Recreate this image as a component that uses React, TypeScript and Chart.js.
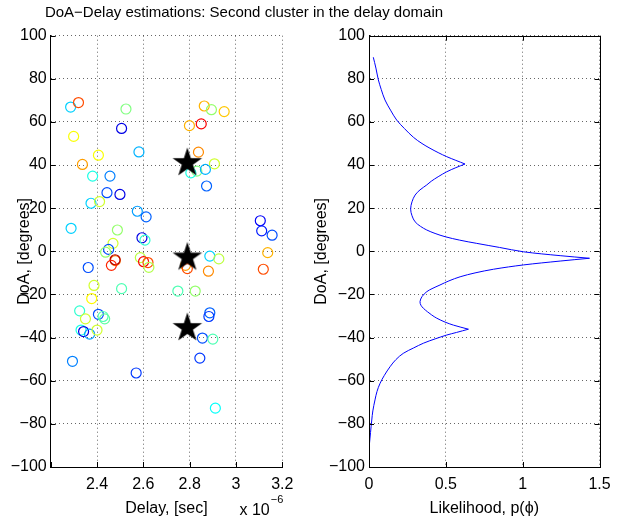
import React, { useEffect, useRef } from 'react';
import { Chart, registerables } from 'chart.js';

Chart.register(...registerables);

// ---------- data ----------
const TITLE = 'DoA\u2212Delay estimations: Second cluster in the delay domain';

// left panel: estimated (delay x 1e-6 s, DoA deg) pairs, colour level (jet 0..1)
const delays = [
  2.286, 2.32, 2.525, 2.506, 2.299, 2.406, 2.337, 2.381, 2.456, 2.581,
  2.863, 2.894, 2.949, 2.799, 2.85, 2.838, 2.907, 2.831, 2.805, 2.868,
  2.873, 2.443, 2.499, 2.374, 2.411, 2.574, 2.612, 2.288, 2.488, 2.469,
  2.594, 2.607, 2.45, 2.437, 2.362, 2.479, 2.478, 2.462, 2.587, 2.601,
  2.62, 2.624, 2.782, 2.79, 2.887, 2.926, 2.881, 3.105, 3.111, 3.156,
  3.137, 3.118, 2.387, 2.506, 2.377, 2.749, 2.824, 2.325, 2.406, 2.35,
  2.426, 2.433, 2.887, 2.883, 2.331, 2.342, 2.368, 2.4, 2.855, 2.9,
  2.294, 2.844, 2.569, 2.911,
];
const doas = [
  66.9, 69.0, 66.0, 57.0, 53.3, 44.6, 40.3, 34.9, 34.9, 46.1,
  67.4, 65.7, 64.8, 58.3, 59.1, 46.0, 40.6, 37.2, 36.4, 38.0,
  30.3, 27.2, 26.4, 22.3, 23.1, 18.6, 16.0, 10.7, 9.9, 3.7,
  6.3, 5.2, 0.9, -0.4, -7.5, -4.3, -3.9, -6.5, -2.9, -4.8,
  -5.2, -7.4, -6.5, -8.0, -2.2, -3.5, -9.2, 14.2, 9.5, 7.5,
  -0.6, -8.3, -15.8, -17.3, -21.9, -18.4, -18.4, -27.6, -29.2, -31.3,
  -30.2, -31.3, -28.5, -30.2, -36.5, -37.2, -38.4, -36.5, -40.2, -40.7,
  -51.0, -49.5, -56.4, -72.7,
];
const levels = [
  0.33, 0.8, 0.5, 0.1, 0.62, 0.62, 0.72, 0.4, 0.25, 0.3,
  0.7, 0.52, 0.68, 0.7, 0.88, 0.74, 0.58, 0.5, 0.4, 0.3,
  0.22, 0.2, 0.1, 0.33, 0.58, 0.28, 0.22, 0.33, 0.52, 0.58,
  0.1, 0.42, 0.2, 0.52, 0.2, 0.76, 0.95, 0.84, 0.56, 0.88,
  0.8, 0.55, 0.72, 0.8, 0.33, 0.56, 0.74, 0.12, 0.15, 0.2,
  0.7, 0.8, 0.58, 0.45, 0.63, 0.45, 0.52, 0.42, 0.2, 0.58,
  0.45, 0.47, 0.22, 0.18, 0.4, 0.1, 0.28, 0.58, 0.2, 0.45,
  0.25, 0.18, 0.18, 0.38,
];

// cluster centres (stars)
const starDelays = [2.79, 2.79, 2.79];
const starDoas = [41.0, -2.8, -35.5];

// right panel: likelihood curve
const curveDoa = [
  90, 85, 79.5, 75, 70.2, 65.5, 60.9, 57, 52.9, 50,
  47.8, 45.8, 43.9, 42.2, 40.5, 38.8, 36.9, 34.6, 32.5, 30.8,
  28.5, 26.1, 23, 19.6, 16.5, 13.7, 11.6, 9.9, 8.3, 6.8,
  5.2, 3.7, 1.8, -0.2, -2.0, -3.2, -4.5, -6.3, -8.3, -10,
  -11.8, -13.7, -15.6, -17.3, -18.7, -21, -23.3, -25, -26.4, -28,
  -29.5, -31, -32.8, -34.2, -36.1, -37.6, -38.8, -40.6, -42.6, -44.8,
  -47.3, -50.2, -53.5, -57.5, -61.2, -65, -68.9, -74, -78.2, -84, -90,
];
const curveP = [
  0.028, 0.045, 0.061, 0.08, 0.104, 0.14, 0.18, 0.23, 0.289, 0.345,
  0.397, 0.45, 0.506, 0.565, 0.625, 0.565, 0.506, 0.45, 0.405, 0.376,
  0.332, 0.3, 0.28, 0.271, 0.28, 0.3, 0.335, 0.376, 0.43, 0.495,
  0.59, 0.701, 0.85, 1.005, 1.244, 1.435, 1.244, 1.005, 0.81, 0.69,
  0.593, 0.52, 0.462, 0.41, 0.376, 0.345, 0.332, 0.338, 0.354, 0.38,
  0.408, 0.441, 0.495, 0.549, 0.647, 0.57, 0.506, 0.43, 0.354, 0.29,
  0.223, 0.175, 0.137, 0.1, 0.072, 0.052, 0.039, 0.025, 0.018, 0.01, 0.002,
];

// axis ranges / tick labels
const delayMin = 2.2, delayMax = 3.2, delayStep = 0.2;
const doaMin = -100, doaMax = 100, doaStep = 20;
const pMin = 0, pMax = 1.5, pStep = 0.5;

// ---------- helpers ----------
const FONT = '"Liberation Sans", Arial, Helvetica, sans-serif';
const W = 627, H = 521;

function jet(v: number) {
  const f = (t: number) => Math.round(255 * Math.max(0, Math.min(1, 1.5 - Math.abs(t))));
  return `rgb(${f(4 * v - 3)},${f(4 * v - 2)},${f(4 * v - 1)})`;
}

function makeStar(R: number) {
  const size = 34;
  const c = document.createElement('canvas');
  c.width = size; c.height = size;
  const ctx = c.getContext('2d')!;
  ctx.translate(size / 2, size / 2);
  ctx.beginPath();
  const r = R * 0.382;
  for (let i = 0; i < 10; i++) {
    const ang = -Math.PI / 2 + (i * Math.PI) / 5;
    const rad = i % 2 === 0 ? R : r;
    ctx.lineTo(rad * Math.cos(ang), rad * Math.sin(ang));
  }
  ctx.closePath();
  ctx.fillStyle = '#000';
  ctx.fill();
  return c;
}

const minus = (s: string) => s.replace('-', '\u2212');

// split the curve at its cusps (local maxima) so each smooth piece keeps sharp peaks
function curvePieces() {
  const cuts: number[] = [0];
  for (let i = 1; i < curveP.length - 1; i++) {
    if (curveP[i] > curveP[i - 1] && curveP[i] > curveP[i + 1]) cuts.push(i);
  }
  cuts.push(curveP.length - 1);
  const pieces: { x: number; y: number }[][] = [];
  for (let k = 0; k < cuts.length - 1; k++) {
    const seg: { x: number; y: number }[] = [];
    for (let i = cuts[k]; i <= cuts[k + 1]; i++) seg.push({ x: curveP[i], y: curveDoa[i] });
    pieces.push(seg);
  }
  return pieces;
}

function inTicks(sides: string[], box: boolean) {
  return {
    id: 'inTicks',
    afterDatasetsDraw(chart: any) {
      const { ctx, chartArea: a, scales } = chart;
      const L = 5;
      ctx.save();
      ctx.strokeStyle = '#000';
      ctx.lineWidth = 1;
      ctx.setLineDash([]);
      ctx.beginPath();
      scales.x.ticks.forEach((t: any) => {
        const px = Math.round(scales.x.getPixelForValue(t.value)) + 0.5;
        if (sides.includes('bottom')) { ctx.moveTo(px, a.bottom); ctx.lineTo(px, a.bottom - L); }
        if (sides.includes('top')) { ctx.moveTo(px, a.top); ctx.lineTo(px, a.top + L); }
      });
      scales.y.ticks.forEach((t: any) => {
        const py = Math.round(scales.y.getPixelForValue(t.value)) + 0.5;
        if (sides.includes('left')) { ctx.moveTo(a.left, py); ctx.lineTo(a.left + L, py); }
        if (sides.includes('right')) { ctx.moveTo(a.right, py); ctx.lineTo(a.right - L, py); }
      });
      ctx.stroke();
      if (box) {
        ctx.strokeRect(Math.round(a.left) + 0.5, Math.round(a.top) + 0.5,
          Math.round(a.right) - Math.round(a.left), Math.round(a.bottom) - Math.round(a.top));
      }
      ctx.restore();
    },
  };
}

const textPlugin = {
  id: 'texts',
  afterDraw(chart: any) {
    const { ctx, chartArea: a } = chart;
    ctx.save();
    ctx.fillStyle = '#000';
    ctx.textAlign = 'center';
    ctx.textBaseline = 'middle';
    ctx.font = `15px ${FONT}`;
    ctx.fillText(TITLE, 244, 13);
    // x 10^-6
    ctx.textAlign = 'left';
    ctx.textBaseline = 'alphabetic';
    const base = 'x 10';
    const sup = '\u22126';
    ctx.font = `11px ${FONT}`;
    const wSup = ctx.measureText(sup).width;
    ctx.font = `16px ${FONT}`;
    const wBase = ctx.measureText(base).width;
    const x0 = a.right - wSup - wBase;
    ctx.fillText(base, x0, 515);
    ctx.font = `11px ${FONT}`;
    ctx.fillText(sup, x0 + wBase + 1, 503);
    ctx.restore();
  },
};

function gridOpts() {
  return {
    color: 'rgba(0,0,0,0.6)',
    lineWidth: 1,
    drawTicks: false,
  };
}
function borderOpts() {
  return { display: true, color: '#000', width: 1, dash: [1, 3] };
}

export default function App() {
  const leftRef = useRef<HTMLCanvasElement>(null);
  const rightRef = useRef<HTMLCanvasElement>(null);

  useEffect(() => {
    const star = makeStar(15.5);
    const tickFont = { family: FONT, size: 16 };
    const titleFont = { family: FONT, size: 16 };

    const left = new Chart(leftRef.current!, {
      type: 'scatter',
      data: {
        datasets: [
          {
            label: 'clusters',
            data: starDelays.map((x, i) => ({ x, y: starDoas[i] })),
            pointStyle: star as any,
            pointRadius: 15,
          },
          {
            label: 'estimates',
            data: delays.map((x, i) => ({ x, y: doas[i] })),
            pointStyle: 'circle',
            pointRadius: 5,
            borderWidth: 1.2,
            backgroundColor: 'rgba(0,0,0,0)',
            borderColor: (c: any) => jet(levels[c.dataIndex] ?? 0),
          },
        ],
      },
      options: {
        responsive: false,
        animation: false,
        events: [],
        layout: { padding: { left: 0, top: 35.7, right: W - 282.3, bottom: 0 } },
        plugins: { legend: { display: false }, tooltip: { enabled: false } },
        scales: {
          x: {
            type: 'linear',
            min: delayMin,
            max: delayMax,
            ticks: {
              stepSize: delayStep,
              font: tickFont,
              color: '#000',
              padding: 8,
              maxRotation: 0,
              callback: (v: any) => {
                const r = Math.round(Number(v) * 10) / 10;
                if (Math.abs(r - delayMin) < 1e-9) return '';
                return String(r);
              },
            },
            grid: gridOpts(),
            border: borderOpts(),
            title: { display: true, text: 'Delay, [sec]', font: titleFont, color: '#000', padding: { top: 0, bottom: 3 } },
            afterFit: (s: any) => { s.height = 54; },
          },
          y: {
            type: 'linear',
            min: doaMin,
            max: doaMax,
            ticks: {
              stepSize: doaStep,
              font: tickFont,
              color: '#000',
              padding: 4,
              callback: (v: any) => minus(String(v)),
            },
            grid: gridOpts(),
            border: borderOpts(),
            title: { display: true, text: 'DoA, [degrees]', font: titleFont, color: '#000', padding: { top: 15.4, bottom: 0 } },
            afterFit: (s: any) => { s.width = 50.7; },
          },
        },
      } as any,
      plugins: [inTicks(['bottom', 'left'], false), textPlugin],
    });

    const right = new Chart(rightRef.current!, {
      type: 'scatter',
      data: {
        datasets: curvePieces().map((seg, k) => ({
          label: 'likelihood ' + k,
          data: seg,
          showLine: true,
          borderColor: '#0000ff',
          borderWidth: 1,
          pointRadius: 0,
          tension: 0.35,
        })),
      },
      options: {
        responsive: false,
        animation: false,
        events: [],
        layout: { padding: { left: 300, top: 35.7, right: W - 599.5, bottom: 0 } },
        plugins: { legend: { display: false }, tooltip: { enabled: false } },
        scales: {
          x: {
            type: 'linear',
            min: pMin,
            max: pMax,
            ticks: {
              stepSize: pStep,
              font: tickFont,
              color: '#000',
              padding: 8,
              maxRotation: 0,
              callback: (v: any) => String(v),
            },
            grid: gridOpts(),
            border: borderOpts(),
            title: { display: true, text: 'Likelihood, p(\u03d5)', font: titleFont, color: '#000', padding: { top: 0, bottom: 3 } },
            afterFit: (s: any) => { s.height = 54; },
          },
          y: {
            type: 'linear',
            min: doaMin,
            max: doaMax,
            ticks: {
              stepSize: doaStep,
              font: tickFont,
              color: '#000',
              padding: 4,
              callback: (v: any) => minus(String(v)),
            },
            grid: gridOpts(),
            border: borderOpts(),
            title: { display: true, text: 'DoA, [degrees]', font: titleFont, color: '#000', padding: { top: 12.4, bottom: 0 } },
            afterFit: (s: any) => { s.width = 69; },
          },
        },
      } as any,
      plugins: [inTicks(['bottom', 'left', 'top', 'right'], true)],
    });

    return () => {
      left.destroy();
      right.destroy();
    };
  }, []);

  const cs: React.CSSProperties = { position: 'absolute', left: 0, top: 0, width: W, height: H };
  return (
    <div style={{ position: 'fixed', left: 0, top: 0, width: W, height: H, background: '#fff' }}>
      <canvas ref={leftRef} width={W} height={H} style={cs} />
      <canvas ref={rightRef} width={W} height={H} style={cs} />
    </div>
  );
}
